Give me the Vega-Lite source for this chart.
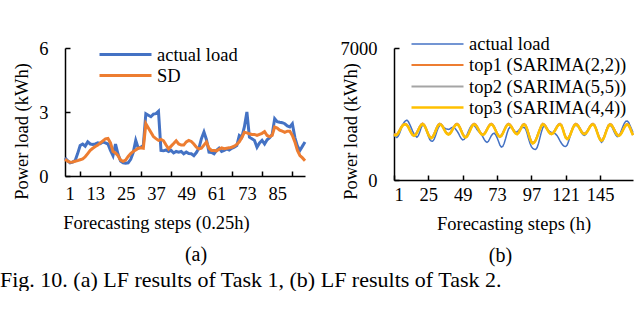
{
  "$schema": "https://vega.github.io/schema/vega-lite/v6.json",
  "background": "white",
  "padding": {"left": 0, "top": 33, "right": 2, "bottom": 0},
  "config": {
    "view": {"stroke": null},
    "font": "Liberation Serif",
    "axis": {
      "grid": false, "domainColor": "black", "domainWidth": 1.5,
      "tickColor": "black", "tickWidth": 1.5, "tickSize": -5,
      "labelFont": "Liberation Serif", "labelFontSize": 18.5, "labelColor": "black",
      "titleFont": "Liberation Serif", "titleFontSize": 18.5, "titleFontWeight": "normal", "titleColor": "black"
    },
    "legend": {
      "orient": "none", "title": null,
      "labelFont": "Liberation Serif", "labelFontSize": 18.5, "labelColor": "black",
      "symbolType": "M-2.6,0L2.6,0", "symbolSize": 400, "symbolStrokeWidth": 3, "rowPadding": -2, "labelOffset": 20
    },
    "title": {"font": "Liberation Serif", "fontWeight": "normal", "color": "black", "fontSize": 20}
  },
  "title": {"text": "Fig. 10. (a) LF results of Task 1, (b) LF results of Task 2.", "orient": "bottom", "anchor": "start", "frame": "bounds", "offset": 4, "dx": -12, "fontSize": 22},
  "datasets": {
    "a": [
      {"step":1,"actual":0.85,"SD":0.78},{"step":2,"actual":0.72,"SD":0.7},{"step":3,"actual":0.62,"SD":0.65},{"step":4,"actual":0.65,"SD":0.66},
      {"step":5,"actual":0.72,"SD":0.69},{"step":6,"actual":1.05,"SD":0.72},{"step":7,"actual":1.43,"SD":0.76},{"step":8,"actual":1.5,"SD":0.8},
      {"step":9,"actual":1.4,"SD":0.9},{"step":10,"actual":1.6,"SD":1.05},{"step":11,"actual":1.5,"SD":1.2},{"step":12,"actual":1.48,"SD":1.3},
      {"step":13,"actual":1.5,"SD":1.38},{"step":14,"actual":1.55,"SD":1.45},{"step":15,"actual":1.52,"SD":1.55},{"step":16,"actual":1.59,"SD":1.65},
      {"step":17,"actual":1.55,"SD":1.74},{"step":18,"actual":1.5,"SD":1.76},{"step":19,"actual":1.2,"SD":1.55},{"step":20,"actual":0.95,"SD":1.15},
      {"step":21,"actual":1.5,"SD":1.08},{"step":22,"actual":1.02,"SD":0.95},{"step":23,"actual":0.7,"SD":0.75},{"step":24,"actual":0.62,"SD":0.69},
      {"step":25,"actual":0.6,"SD":0.75},{"step":26,"actual":0.62,"SD":0.92},{"step":27,"actual":0.78,"SD":1.05},{"step":28,"actual":1.1,"SD":1.15},
      {"step":29,"actual":1.67,"SD":1.22},{"step":30,"actual":1.3,"SD":1.3},{"step":31,"actual":1.35,"SD":1.32},{"step":32,"actual":1.43,"SD":1.3},
      {"step":33,"actual":2.92,"SD":2.45},{"step":34,"actual":2.85,"SD":2.25},{"step":35,"actual":2.78,"SD":2.05},{"step":36,"actual":2.9,"SD":1.85},
      {"step":37,"actual":2.92,"SD":1.75},{"step":38,"actual":3.03,"SD":1.67},{"step":39,"actual":1.2,"SD":1.72},{"step":40,"actual":1.18,"SD":1.65},
      {"step":41,"actual":1.22,"SD":1.45},{"step":42,"actual":1.15,"SD":1.27},{"step":43,"actual":1.2,"SD":1.4},{"step":44,"actual":1.08,"SD":1.52},
      {"step":45,"actual":1.15,"SD":1.65},{"step":46,"actual":1.12,"SD":1.5},{"step":47,"actual":1.15,"SD":1.45},{"step":48,"actual":1.04,"SD":1.45},
      {"step":49,"actual":1.12,"SD":1.6},{"step":50,"actual":1.05,"SD":1.67},{"step":51,"actual":1.04,"SD":1.62},{"step":52,"actual":0.95,"SD":1.5},
      {"step":53,"actual":1.1,"SD":1.35},{"step":54,"actual":1.3,"SD":1.27},{"step":55,"actual":1.75,"SD":1.3},{"step":56,"actual":2.06,"SD":1.45},
      {"step":57,"actual":1.7,"SD":1.6},{"step":58,"actual":1.12,"SD":1.3},{"step":59,"actual":1.1,"SD":1.2},{"step":60,"actual":1.04,"SD":1.2},
      {"step":61,"actual":1.2,"SD":1.18},{"step":62,"actual":1.3,"SD":1.25},{"step":63,"actual":1.15,"SD":1.32},{"step":64,"actual":1.2,"SD":1.28},
      {"step":65,"actual":1.27,"SD":1.3},{"step":66,"actual":1.22,"SD":1.32},{"step":67,"actual":1.3,"SD":1.35},{"step":68,"actual":1.35,"SD":1.4},
      {"step":69,"actual":1.43,"SD":1.48},{"step":70,"actual":1.9,"SD":1.6},{"step":71,"actual":1.82,"SD":1.8},{"step":72,"actual":2.3,"SD":2.05},
      {"step":73,"actual":3.0,"SD":2.02},{"step":74,"actual":1.82,"SD":1.98},{"step":75,"actual":1.75,"SD":1.95},{"step":76,"actual":1.67,"SD":1.95},
      {"step":77,"actual":1.35,"SD":1.9},{"step":78,"actual":1.55,"SD":1.95},{"step":79,"actual":1.67,"SD":2.0},{"step":80,"actual":1.5,"SD":2.08},
      {"step":81,"actual":1.7,"SD":1.9},{"step":82,"actual":1.8,"SD":1.85},{"step":83,"actual":1.95,"SD":1.9},{"step":84,"actual":2.69,"SD":2.3},
      {"step":85,"actual":2.55,"SD":2.25},{"step":86,"actual":2.52,"SD":2.15},{"step":87,"actual":2.5,"SD":2.1},{"step":88,"actual":2.45,"SD":2.05},
      {"step":89,"actual":2.35,"SD":2.1},{"step":90,"actual":2.3,"SD":2.1},{"step":91,"actual":2.45,"SD":1.9},{"step":92,"actual":1.8,"SD":1.6},
      {"step":93,"actual":1.4,"SD":1.2},{"step":94,"actual":1.2,"SD":0.96},{"step":95,"actual":1.4,"SD":0.85},{"step":96,"actual":1.59,"SD":0.72}
    ],
    "b": [
      {"t":1,"actual":2350,"top1":2450,"top2":2420,"top3":2410},{"t":2,"actual":2300,"top1":2410,"top2":2380,"top3":2370},
      {"t":3,"actual":2250,"top1":2430,"top2":2400,"top3":2390},{"t":4,"actual":2330,"top1":2530,"top2":2500,"top3":2490},
      {"t":5,"actual":2500,"top1":2670,"top2":2640,"top3":2630},{"t":6,"actual":2700,"top1":2810,"top2":2780,"top3":2770},
      {"t":7,"actual":2900,"top1":2920,"top2":2890,"top3":2880},{"t":8,"actual":3050,"top1":2980,"top2":2950,"top3":2940},
      {"t":9,"actual":3140,"top1":2990,"top2":2960,"top3":2950},{"t":10,"actual":3170,"top1":2949,"top2":2919,"top3":2909},
      {"t":11,"actual":3100,"top1":2838,"top2":2808,"top3":2798},{"t":12,"actual":2950,"top1":2685,"top2":2655,"top3":2645},
      {"t":13,"actual":2780,"top1":2533,"top2":2503,"top3":2493},{"t":14,"actual":2600,"top1":2421,"top2":2391,"top3":2381},
      {"t":15,"actual":2450,"top1":2380,"top2":2350,"top3":2340},{"t":16,"actual":2330,"top1":2422,"top2":2392,"top3":2382},
      {"t":17,"actual":2270,"top1":2535,"top2":2505,"top3":2495},{"t":18,"actual":2350,"top1":2690,"top2":2660,"top3":2650},
      {"t":19,"actual":2550,"top1":2845,"top2":2815,"top3":2805},{"t":20,"actual":2780,"top1":2958,"top2":2928,"top3":2918},
      {"t":21,"actual":2920,"top1":3000,"top2":2970,"top3":2960},{"t":22,"actual":2900,"top1":2950,"top2":2920,"top3":2910},
      {"t":23,"actual":2750,"top1":2815,"top2":2785,"top3":2775},{"t":24,"actual":2550,"top1":2630,"top2":2600,"top3":2590},
      {"t":25,"actual":2320,"top1":2445,"top2":2415,"top3":2405},{"t":26,"actual":2150,"top1":2310,"top2":2280,"top3":2270},
      {"t":27,"actual":2070,"top1":2260,"top2":2230,"top3":2220},{"t":28,"actual":2055,"top1":2310,"top2":2280,"top3":2270},
      {"t":29,"actual":2150,"top1":2445,"top2":2415,"top3":2405},{"t":30,"actual":2350,"top1":2630,"top2":2600,"top3":2590},
      {"t":31,"actual":2580,"top1":2815,"top2":2785,"top3":2775},{"t":32,"actual":2780,"top1":2950,"top2":2920,"top3":2910},
      {"t":33,"actual":2900,"top1":3000,"top2":2970,"top3":2960},{"t":34,"actual":2920,"top1":2963,"top2":2933,"top3":2923},
      {"t":35,"actual":2850,"top1":2863,"top2":2833,"top3":2823},{"t":36,"actual":2780,"top1":2725,"top2":2695,"top3":2685},
      {"t":37,"actual":2720,"top1":2588,"top2":2558,"top3":2548},{"t":38,"actual":2700,"top1":2487,"top2":2457,"top3":2447},
      {"t":39,"actual":2680,"top1":2450,"top2":2420,"top3":2410},{"t":40,"actual":2700,"top1":2486,"top2":2456,"top3":2446},
      {"t":41,"actual":2760,"top1":2585,"top2":2555,"top3":2545},{"t":42,"actual":2800,"top1":2720,"top2":2690,"top3":2680},
      {"t":43,"actual":2780,"top1":2855,"top2":2825,"top3":2815},{"t":44,"actual":2700,"top1":2954,"top2":2924,"top3":2914},
      {"t":45,"actual":2600,"top1":2990,"top2":2960,"top3":2950},{"t":46,"actual":2480,"top1":2943,"top2":2913,"top3":2903},
      {"t":47,"actual":2330,"top1":2815,"top2":2785,"top3":2775},{"t":48,"actual":2200,"top1":2640,"top2":2610,"top3":2600},
      {"t":49,"actual":2130,"top1":2465,"top2":2435,"top3":2425},{"t":50,"actual":2150,"top1":2337,"top2":2307,"top3":2297},
      {"t":51,"actual":2250,"top1":2290,"top2":2260,"top3":2250},{"t":52,"actual":2400,"top1":2337,"top2":2307,"top3":2297},
      {"t":53,"actual":2580,"top1":2465,"top2":2435,"top3":2425},{"t":54,"actual":2750,"top1":2640,"top2":2610,"top3":2600},
      {"t":55,"actual":2870,"top1":2815,"top2":2785,"top3":2775},{"t":56,"actual":2920,"top1":2943,"top2":2913,"top3":2903},
      {"t":57,"actual":2900,"top1":2990,"top2":2960,"top3":2950},{"t":58,"actual":2800,"top1":2952,"top2":2922,"top3":2912},
      {"t":59,"actual":2680,"top1":2850,"top2":2820,"top3":2810},{"t":60,"actual":2580,"top1":2710,"top2":2680,"top3":2670},
      {"t":61,"actual":2500,"top1":2570,"top2":2540,"top3":2530},{"t":62,"actual":2420,"top1":2468,"top2":2438,"top3":2428},
      {"t":63,"actual":2300,"top1":2430,"top2":2400,"top3":2390},{"t":64,"actual":2150,"top1":2468,"top2":2438,"top3":2428},
      {"t":65,"actual":2050,"top1":2570,"top2":2540,"top3":2530},{"t":66,"actual":2000,"top1":2710,"top2":2680,"top3":2670},
      {"t":67,"actual":2050,"top1":2850,"top2":2820,"top3":2810},{"t":68,"actual":2200,"top1":2952,"top2":2922,"top3":2912},
      {"t":69,"actual":2350,"top1":2990,"top2":2960,"top3":2950},{"t":70,"actual":2450,"top1":2946,"top2":2916,"top3":2906},
      {"t":71,"actual":2480,"top1":2825,"top2":2795,"top3":2785},{"t":72,"actual":2400,"top1":2660,"top2":2630,"top3":2620},
      {"t":73,"actual":2250,"top1":2495,"top2":2465,"top3":2455},{"t":74,"actual":2050,"top1":2374,"top2":2344,"top3":2334},
      {"t":75,"actual":1850,"top1":2330,"top2":2300,"top3":2290},{"t":76,"actual":1750,"top1":2374,"top2":2344,"top3":2334},
      {"t":77,"actual":1780,"top1":2495,"top2":2465,"top3":2455},{"t":78,"actual":1950,"top1":2660,"top2":2630,"top3":2620},
      {"t":79,"actual":2200,"top1":2825,"top2":2795,"top3":2785},{"t":80,"actual":2480,"top1":2946,"top2":2916,"top3":2906},
      {"t":81,"actual":2700,"top1":2990,"top2":2960,"top3":2950},{"t":82,"actual":2800,"top1":2955,"top2":2925,"top3":2915},
      {"t":83,"actual":2780,"top1":2860,"top2":2830,"top3":2820},{"t":84,"actual":2700,"top1":2730,"top2":2700,"top3":2690},
      {"t":85,"actual":2600,"top1":2600,"top2":2570,"top3":2560},{"t":86,"actual":2550,"top1":2505,"top2":2475,"top3":2465},
      {"t":87,"actual":2560,"top1":2470,"top2":2440,"top3":2430},{"t":88,"actual":2620,"top1":2530,"top2":2500,"top3":2490},
      {"t":89,"actual":2700,"top1":2670,"top2":2640,"top3":2630},{"t":90,"actual":2760,"top1":2830,"top2":2800,"top3":2790},
      {"t":91,"actual":2790,"top1":2940,"top2":2910,"top3":2900},{"t":92,"actual":2785,"top1":2980,"top2":2950,"top3":2940},
      {"t":93,"actual":2700,"top1":2913,"top2":2883,"top3":2873},{"t":94,"actual":2480,"top1":2730,"top2":2700,"top3":2690},
      {"t":95,"actual":2200,"top1":2480,"top2":2450,"top3":2440},{"t":96,"actual":1950,"top1":2230,"top2":2200,"top3":2190},
      {"t":97,"actual":1770,"top1":2047,"top2":2017,"top3":2007},{"t":98,"actual":1670,"top1":1980,"top2":1950,"top3":1940},
      {"t":99,"actual":1630,"top1":2020,"top2":1990,"top3":1980},{"t":100,"actual":1620,"top1":2140,"top2":2110,"top3":2100},
      {"t":101,"actual":1720,"top1":2320,"top2":2290,"top3":2280},{"t":102,"actual":1950,"top1":2530,"top2":2500,"top3":2490},
      {"t":103,"actual":2250,"top1":2730,"top2":2700,"top3":2690},{"t":104,"actual":2550,"top1":2910,"top2":2880,"top3":2870},
      {"t":105,"actual":2780,"top1":2990,"top2":2960,"top3":2950},{"t":106,"actual":2870,"top1":2955,"top2":2925,"top3":2915},
      {"t":107,"actual":2800,"top1":2860,"top2":2830,"top3":2820},{"t":108,"actual":2700,"top1":2730,"top2":2700,"top3":2690},
      {"t":109,"actual":2620,"top1":2600,"top2":2570,"top3":2560},{"t":110,"actual":2560,"top1":2505,"top2":2475,"top3":2465},
      {"t":111,"actual":2520,"top1":2470,"top2":2440,"top3":2430},{"t":112,"actual":2500,"top1":2505,"top2":2475,"top3":2465},
      {"t":113,"actual":2480,"top1":2600,"top2":2570,"top3":2560},{"t":114,"actual":2430,"top1":2730,"top2":2700,"top3":2690},
      {"t":115,"actual":2350,"top1":2860,"top2":2830,"top3":2820},{"t":116,"actual":2220,"top1":2955,"top2":2925,"top3":2915},
      {"t":117,"actual":2080,"top1":2990,"top2":2960,"top3":2950},{"t":118,"actual":1950,"top1":2930,"top2":2900,"top3":2890},
      {"t":119,"actual":1850,"top1":2730,"top2":2700,"top3":2690},{"t":120,"actual":1790,"top1":2480,"top2":2450,"top3":2440},
      {"t":121,"actual":1776,"top1":2280,"top2":2250,"top3":2240},{"t":122,"actual":1850,"top1":2210,"top2":2180,"top3":2170},
      {"t":123,"actual":2050,"top1":2262,"top2":2232,"top3":2222},{"t":124,"actual":2300,"top1":2405,"top2":2375,"top3":2365},
      {"t":125,"actual":2550,"top1":2600,"top2":2570,"top3":2560},{"t":126,"actual":2750,"top1":2795,"top2":2765,"top3":2755},
      {"t":127,"actual":2870,"top1":2938,"top2":2908,"top3":2898},{"t":128,"actual":2900,"top1":2990,"top2":2960,"top3":2950},
      {"t":129,"actual":2880,"top1":2955,"top2":2925,"top3":2915},{"t":130,"actual":2800,"top1":2860,"top2":2830,"top3":2820},
      {"t":131,"actual":2650,"top1":2730,"top2":2700,"top3":2690},{"t":132,"actual":2500,"top1":2600,"top2":2570,"top3":2560},
      {"t":133,"actual":2400,"top1":2505,"top2":2475,"top3":2465},{"t":134,"actual":2370,"top1":2470,"top2":2440,"top3":2430},
      {"t":135,"actual":2420,"top1":2505,"top2":2475,"top3":2465},{"t":136,"actual":2550,"top1":2600,"top2":2570,"top3":2560},
      {"t":137,"actual":2700,"top1":2730,"top2":2700,"top3":2690},{"t":138,"actual":2830,"top1":2860,"top2":2830,"top3":2820},
      {"t":139,"actual":2930,"top1":2955,"top2":2925,"top3":2915},{"t":140,"actual":2960,"top1":2990,"top2":2960,"top3":2950},
      {"t":141,"actual":2900,"top1":2932,"top2":2902,"top3":2892},{"t":142,"actual":2750,"top1":2773,"top2":2743,"top3":2733},
      {"t":143,"actual":2550,"top1":2555,"top2":2525,"top3":2515},{"t":144,"actual":2300,"top1":2338,"top2":2308,"top3":2298},
      {"t":145,"actual":2100,"top1":2178,"top2":2148,"top3":2138},{"t":146,"actual":2000,"top1":2120,"top2":2090,"top3":2080},
      {"t":147,"actual":2080,"top1":2178,"top2":2148,"top3":2138},{"t":148,"actual":2300,"top1":2335,"top2":2305,"top3":2295},
      {"t":149,"actual":2550,"top1":2550,"top2":2520,"top3":2510},{"t":150,"actual":2750,"top1":2765,"top2":2735,"top3":2725},
      {"t":151,"actual":2880,"top1":2922,"top2":2892,"top3":2882},{"t":152,"actual":2900,"top1":2980,"top2":2950,"top3":2940},
      {"t":153,"actual":2850,"top1":2940,"top2":2910,"top3":2900},{"t":154,"actual":2700,"top1":2830,"top2":2800,"top3":2790},
      {"t":155,"actual":2520,"top1":2680,"top2":2650,"top3":2640},{"t":156,"actual":2380,"top1":2530,"top2":2500,"top3":2490},
      {"t":157,"actual":2300,"top1":2420,"top2":2390,"top3":2380},{"t":158,"actual":2330,"top1":2380,"top2":2350,"top3":2340},
      {"t":159,"actual":2450,"top1":2420,"top2":2390,"top3":2380},{"t":160,"actual":2650,"top1":2530,"top2":2500,"top3":2490},
      {"t":161,"actual":2850,"top1":2680,"top2":2650,"top3":2640},{"t":162,"actual":3020,"top1":2830,"top2":2800,"top3":2790},
      {"t":163,"actual":3120,"top1":2940,"top2":2910,"top3":2900},{"t":164,"actual":3130,"top1":2980,"top2":2950,"top3":2940},
      {"t":165,"actual":3050,"top1":2930,"top2":2900,"top3":2890},{"t":166,"actual":2880,"top1":2780,"top2":2750,"top3":2740},
      {"t":167,"actual":2700,"top1":2580,"top2":2550,"top3":2540},{"t":168,"actual":2520,"top1":2410,"top2":2380,"top3":2370}
    ]
  },
  "spacing": 29,
  "resolve": {"scale": {"color": "independent", "strokeWidth": "independent"}},
  "hconcat": [
    {
      "width": 240, "height": 128,
      "data": {"name": "a"},
      "transform": [{"fold": ["actual", "SD"], "as": ["series", "load"]}],
      "title": {"text": "(a)", "orient": "bottom", "dx": 11, "offset": 13},
      "mark": {"type": "line", "strokeWidth": 3},
      "encoding": {
        "x": {"field": "step", "type": "quantitative", "scale": {"domain": [1, 96], "nice": false, "zero": false},
              "axis": {"values": [1, 13, 25, 37, 49, 61, 73, 85], "title": "Forecasting steps (0.25h)", "tickOffset": 15, "labelOffset": -15, "labelPadding": 13, "titleX": 91, "titlePadding": 11}},
        "y": {"field": "load", "type": "quantitative", "scale": {"domain": [0, 6], "nice": false},
              "axis": {"values": [0, 3, 6], "title": "Power load (kWh)", "labelPadding": 22, "titleX": -34, "titleY": 83}},
        "color": {"field": "series", "type": "nominal", "scale": {"domain": ["actual", "SD"], "range": ["#4472C4", "#ED7D31"]},
                  "legend": {"legendX": 49, "legendY": -5, "labelExpr": "datum.label == 'actual' ? 'actual load' : datum.label"}}
      }
    },
    {
      "width": 239, "height": 132,
      "data": {"name": "b"},
      "transform": [{"fold": ["actual", "top1", "top2", "top3"], "as": ["series", "load"]}],
      "title": {"text": "(b)", "orient": "bottom", "dx": -13, "offset": 13},
      "mark": {"type": "line"},
      "encoding": {
        "x": {"field": "t", "type": "quantitative", "scale": {"domain": [1, 168], "nice": false, "zero": false},
              "axis": {"values": [1, 25, 49, 73, 97, 121, 145], "title": "Forecasting steps (h)", "labelPadding": 10, "titlePadding": 11}},
        "y": {"field": "load", "type": "quantitative", "scale": {"domain": [0, 7000], "nice": false},
              "axis": {"values": [0, 7000], "format": "d", "title": "Power load (kWh)", "labelPadding": 22, "titleX": -34, "titleY": 83}},
        "color": {"field": "series", "type": "nominal", "scale": {"domain": ["actual", "top1", "top2", "top3"], "range": ["#4472C4", "#ED7D31", "#A5A5A5", "#FFC000"]},
                  "legend": {"legendX": 32, "legendY": -15, "labelExpr": "datum.label == 'actual' ? 'actual load' : datum.label == 'top1' ? 'top1 (SARIMA(2,2))' : datum.label == 'top2' ? 'top2 (SARIMA(5,5))' : 'top3 (SARIMA(4,4))'"}},
        "strokeWidth": {"field": "series", "type": "nominal", "scale": {"domain": ["actual", "top1", "top2", "top3"], "range": [1.5, 2.5, 2.5, 2.5]},
                  "legend": {"legendX": 32, "legendY": -15, "labelExpr": "datum.label == 'actual' ? 'actual load' : datum.label == 'top1' ? 'top1 (SARIMA(2,2))' : datum.label == 'top2' ? 'top2 (SARIMA(5,5))' : 'top3 (SARIMA(4,4))'"}}
      }
    }
  ]
}
